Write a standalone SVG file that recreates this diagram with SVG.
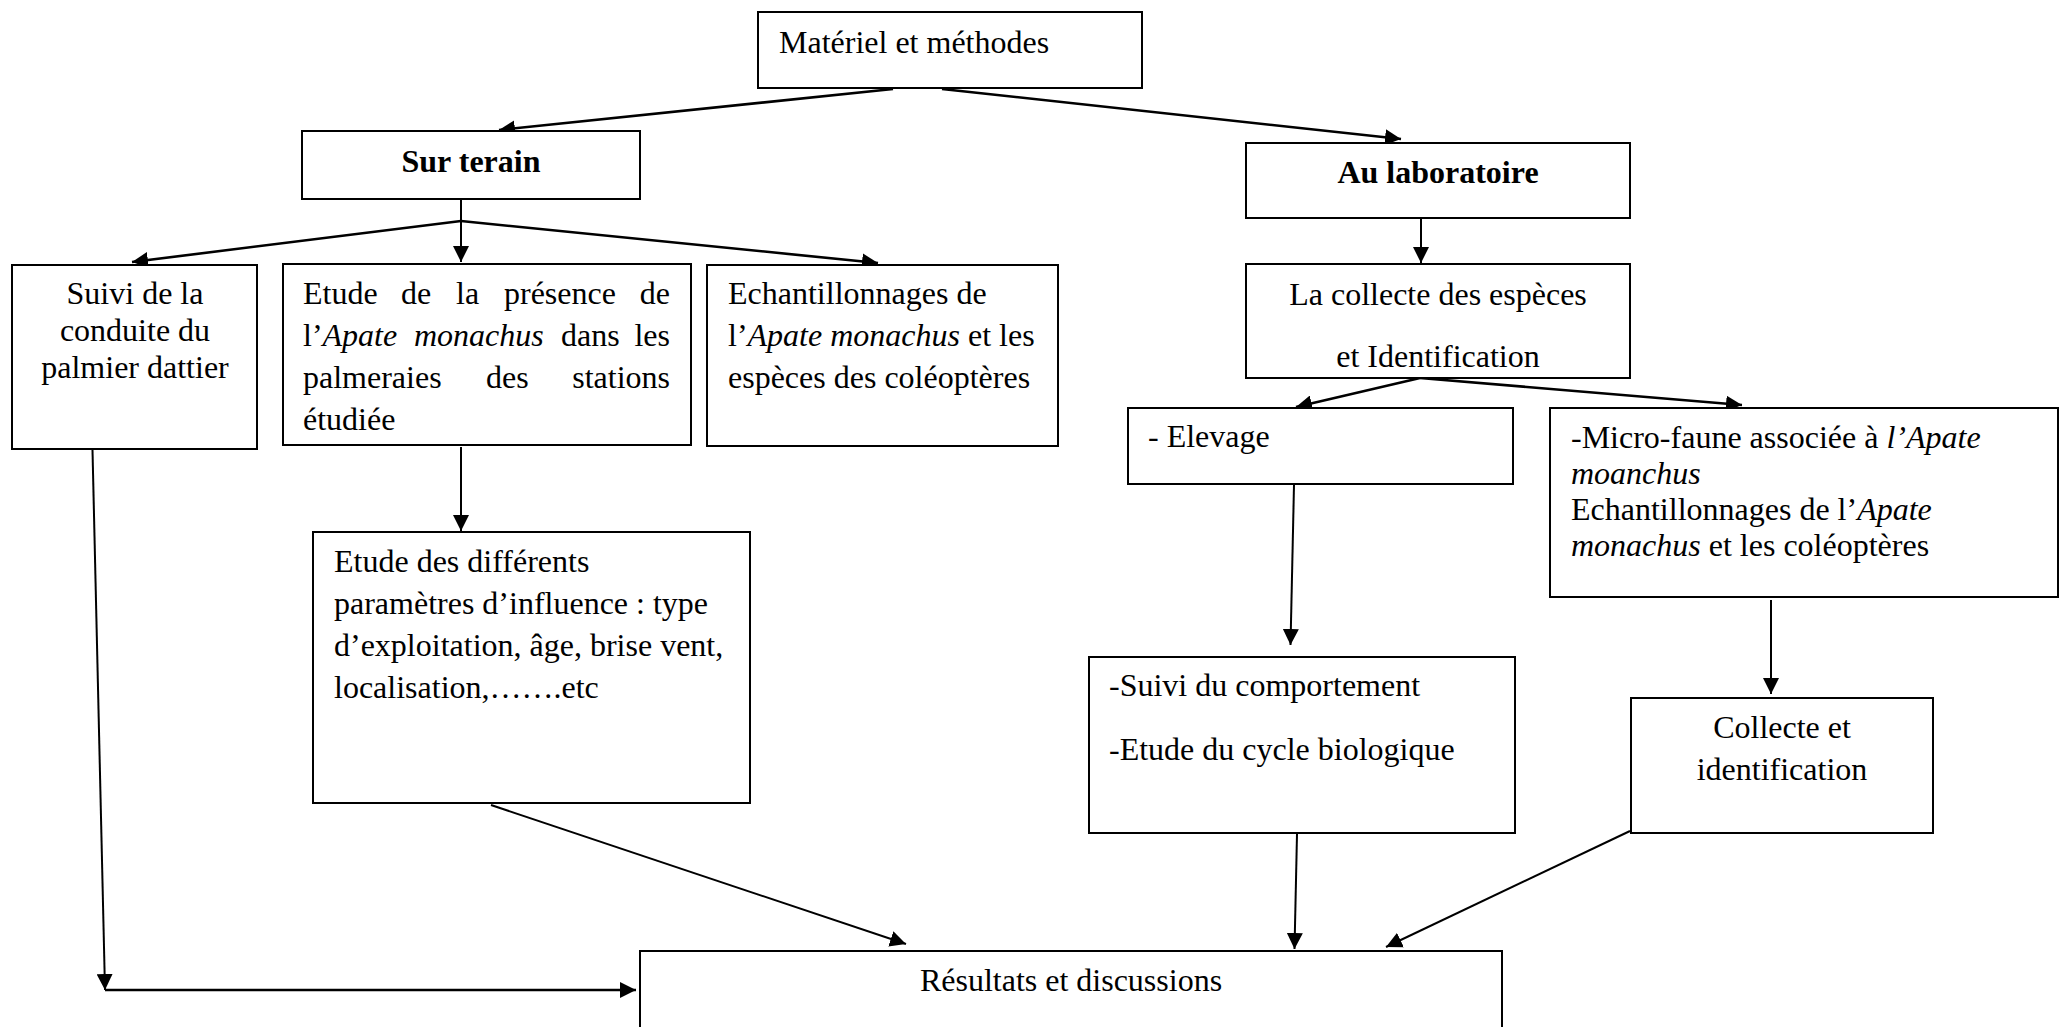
<svg xmlns="http://www.w3.org/2000/svg" width="2069" height="1027" viewBox="0 0 2069 1027">
<style>
.box{fill:#fff;stroke:#000;stroke-width:2}
text{font-family:"Liberation Serif","Times New Roman",serif;font-size:32px;fill:#000}
.b{font-weight:bold}
.c{text-anchor:middle}
.e{text-anchor:end}
.i{font-style:italic}
.ln{stroke:#000;stroke-width:2;fill:none}
.thk{stroke-width:2.6}
</style>
<defs>
<marker id="ah" markerUnits="userSpaceOnUse" markerWidth="16" markerHeight="16" viewBox="0 0 15 15" refX="15" refY="7.5" orient="auto">
<path d="M0,0 L15,7.5 L0,15 z" fill="#000"/>
</marker>
</defs>
<rect x="0" y="0" width="2069" height="1027" fill="#fff"/>

<g id="connectors">
<line class="ln thk" x1="893" y1="89" x2="499" y2="130" marker-end="url(#ah)"/>
<line class="ln thk" x1="942" y1="89" x2="1401" y2="139" marker-end="url(#ah)"/>
<line class="ln" x1="461" y1="199" x2="461" y2="262" marker-end="url(#ah)"/>
<line class="ln thk" x1="461" y1="221" x2="132" y2="262" marker-end="url(#ah)"/>
<line class="ln thk" x1="461" y1="221" x2="878" y2="263" marker-end="url(#ah)"/>
<line class="ln" x1="1421" y1="218" x2="1421" y2="263" marker-end="url(#ah)"/>
<line class="ln thk" x1="1420" y1="378" x2="1296" y2="407" marker-end="url(#ah)"/>
<line class="ln thk" x1="1420" y1="378" x2="1742" y2="405" marker-end="url(#ah)"/>
<line class="ln" x1="461" y1="447" x2="461" y2="531" marker-end="url(#ah)"/>
<line class="ln" x1="92.5" y1="450" x2="105" y2="990" marker-end="url(#ah)"/>
<line class="ln thk" x1="105" y1="990" x2="636" y2="990" marker-end="url(#ah)"/>
<line class="ln" x1="1294" y1="485" x2="1290.5" y2="645" marker-end="url(#ah)"/>
<line class="ln" x1="1771" y1="600" x2="1771" y2="694" marker-end="url(#ah)"/>
<line class="ln" x1="491" y1="805" x2="906" y2="944" marker-end="url(#ah)"/>
<line class="ln" x1="1297" y1="834" x2="1294.5" y2="949" marker-end="url(#ah)"/>
<line class="ln" x1="1630" y1="831" x2="1386" y2="947" marker-end="url(#ah)"/>
</g>

<g id="materiel">
<rect class="box" x="758" y="12" width="384" height="76"/>
<text x="779" y="53">Matériel et méthodes</text>
</g>

<g id="sur-terain">
<rect class="box" x="302" y="131" width="338" height="68"/>
<text class="b c" x="471" y="172">Sur terain</text>
</g>

<g id="au-laboratoire">
<rect class="box" x="1246" y="143" width="384" height="75"/>
<text class="b c" x="1438" y="183">Au laboratoire</text>
</g>

<g id="suivi-conduite">
<rect class="box" x="12" y="265" width="245" height="184"/>
<text class="c" x="135" y="304">Suivi de la</text>
<text class="c" x="135" y="341">conduite du</text>
<text class="c" x="135" y="378">palmier dattier</text>
</g>

<g id="etude-presence">
<rect class="box" x="283" y="264" width="408" height="181"/>
<text x="303" y="304">Etude</text>
<text x="401" y="304">de</text>
<text x="456" y="304">la</text>
<text x="504" y="304">présence</text>
<text class="e" x="670" y="304">de</text>
<text x="303" y="346">l’<tspan class="i">Apate</tspan></text>
<text class="i" x="414" y="346">monachus</text>
<text x="561" y="346">dans</text>
<text class="e" x="670" y="346">les</text>
<text x="303" y="388">palmeraies</text>
<text x="486" y="388">des</text>
<text class="e" x="670" y="388">stations</text>
<text x="303" y="430">étudiée</text>
</g>

<g id="echantillonnages">
<rect class="box" x="707" y="265" width="351" height="181"/>
<text x="728" y="304">Echantillonnages de</text>
<text x="728" y="346">l’<tspan class="i">Apate monachus</tspan> et les</text>
<text x="728" y="388">espèces des coléoptères</text>
</g>

<g id="collecte-especes">
<rect class="box" x="1246" y="264" width="384" height="114"/>
<text class="c" x="1438" y="305">La collecte des espèces</text>
<text class="c" x="1438" y="367">et Identification</text>
</g>

<g id="elevage">
<rect class="box" x="1128" y="408" width="385" height="76"/>
<text x="1148" y="447">- Elevage</text>
</g>

<g id="micro-faune">
<rect class="box" x="1550" y="408" width="508" height="189"/>
<text x="1571" y="448">-Micro-faune associée à <tspan class="i">l’Apate</tspan></text>
<text class="i" x="1571" y="484">moanchus</text>
<text x="1571" y="520">Echantillonnages de l’<tspan class="i">Apate</tspan></text>
<text x="1571" y="556"><tspan class="i">monachus</tspan> et les coléoptères</text>
</g>

<g id="etude-parametres">
<rect class="box" x="313" y="532" width="437" height="271"/>
<text x="334" y="572">Etude des différents</text>
<text x="334" y="614">paramètres d’influence : type</text>
<text x="334" y="656">d’exploitation, âge, brise vent,</text>
<text x="334" y="698">localisation,…….etc</text>
</g>

<g id="suivi-comportement">
<rect class="box" x="1089" y="657" width="426" height="176"/>
<text x="1109" y="696">-Suivi du comportement</text>
<text x="1109" y="760">-Etude du cycle biologique</text>
</g>

<g id="collecte-identification">
<rect class="box" x="1631" y="698" width="302" height="135"/>
<text class="c" x="1782" y="738">Collecte et</text>
<text class="c" x="1782" y="780">identification</text>
</g>

<g id="resultats">
<rect class="box" x="640" y="951" width="862" height="90"/>
<text class="c" x="1071" y="991">Résultats et discussions</text>
</g>
</svg>
